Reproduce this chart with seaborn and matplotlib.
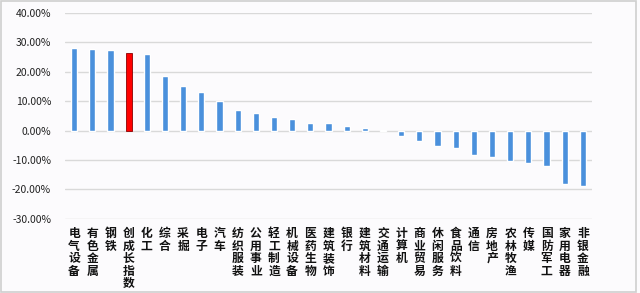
import matplotlib
matplotlib.use("Agg")
import matplotlib.pyplot as plt
import seaborn as sns
import pandas as pd
from matplotlib.ticker import FuncFormatter
from matplotlib.patches import Rectangle

categories = ["电气设备", "有色金属", "钢铁", "创成长指数", "化工", "综合", "采掘", "电子", "汽车",
              "纺织服装", "公用事业", "轻工制造", "机械设备", "医药生物", "建筑装饰", "银行",
              "建筑材料", "交通运输", "计算机", "商业贸易", "休闲服务", "食品饮料", "通信",
              "房地产", "农林牧渔", "传媒", "国防军工", "家用电器", "非银金融"]
values = [28.1, 27.7, 27.5, 26.3, 26.0, 18.4, 15.3, 13.2, 10.2,
          7.0, 5.9, 4.7, 3.9, 2.7, 2.5, 1.6,
          0.9, 0.1, -2.0, -3.5, -5.1, -6.0, -8.2,
          -9.1, -10.4, -11.1, -12.0, -18.1, -18.9]
highlight = "创成长指数"
y_ticks = [-30, -20, -10, 0, 10, 20, 30, 40]

sns.set_style("white")
plt.rcParams["font.family"] = ["Noto Sans CJK SC", "DejaVu Sans"]

df = pd.DataFrame({"cat": categories, "val": values})
palette = {c: ("#ff0000" if c == highlight else "#4a90dc") for c in categories}

fig = plt.figure(figsize=(6.4, 2.93), dpi=100, facecolor="#fcfbfd")
ax = fig.add_axes([0.1016, 0.2536, 0.8234, 0.702])
ax.set_facecolor("#fcfbfd")

sns.barplot(data=df, x="cat", y="val", hue="cat", palette=palette, legend=False,
            width=0.34, ax=ax, saturation=1)
for p, c in zip(ax.patches, categories):
    if c == highlight:
        p.set_edgecolor("#8b0000")
        p.set_linewidth(0.6)

ax.set_ylim(-30, 40)
ax.set_xlim(-0.5, len(categories) - 0.5)
ax.set_yticks(y_ticks)
ax.yaxis.set_major_formatter(FuncFormatter(lambda v, pos: f"{v:.2f}%"))
ax.grid(axis="y", color="#d9d9d9", linewidth=1.0)
ax.set_axisbelow(True)
for s in ax.spines.values():
    s.set_visible(False)
ax.set_xlabel("")
ax.set_ylabel("")
ax.tick_params(axis="y", length=0, pad=10, labelsize=7.5, labelcolor="#222222")
ax.tick_params(axis="x", length=0, pad=6)
ax.set_xticks(range(len(categories)))
ax.set_xticklabels(["\n".join(c) for c in categories], fontsize=8.5, fontweight="bold",
                   linespacing=0.95, va="top", color="#111111")

fig.patches.append(Rectangle((0.001, 0.002), 0.992, 0.994, transform=fig.transFigure,
                             fill=False, edgecolor="#cfcfcf", linewidth=1.2))

fig.savefig("out.png", dpi=100, facecolor=fig.get_facecolor())
